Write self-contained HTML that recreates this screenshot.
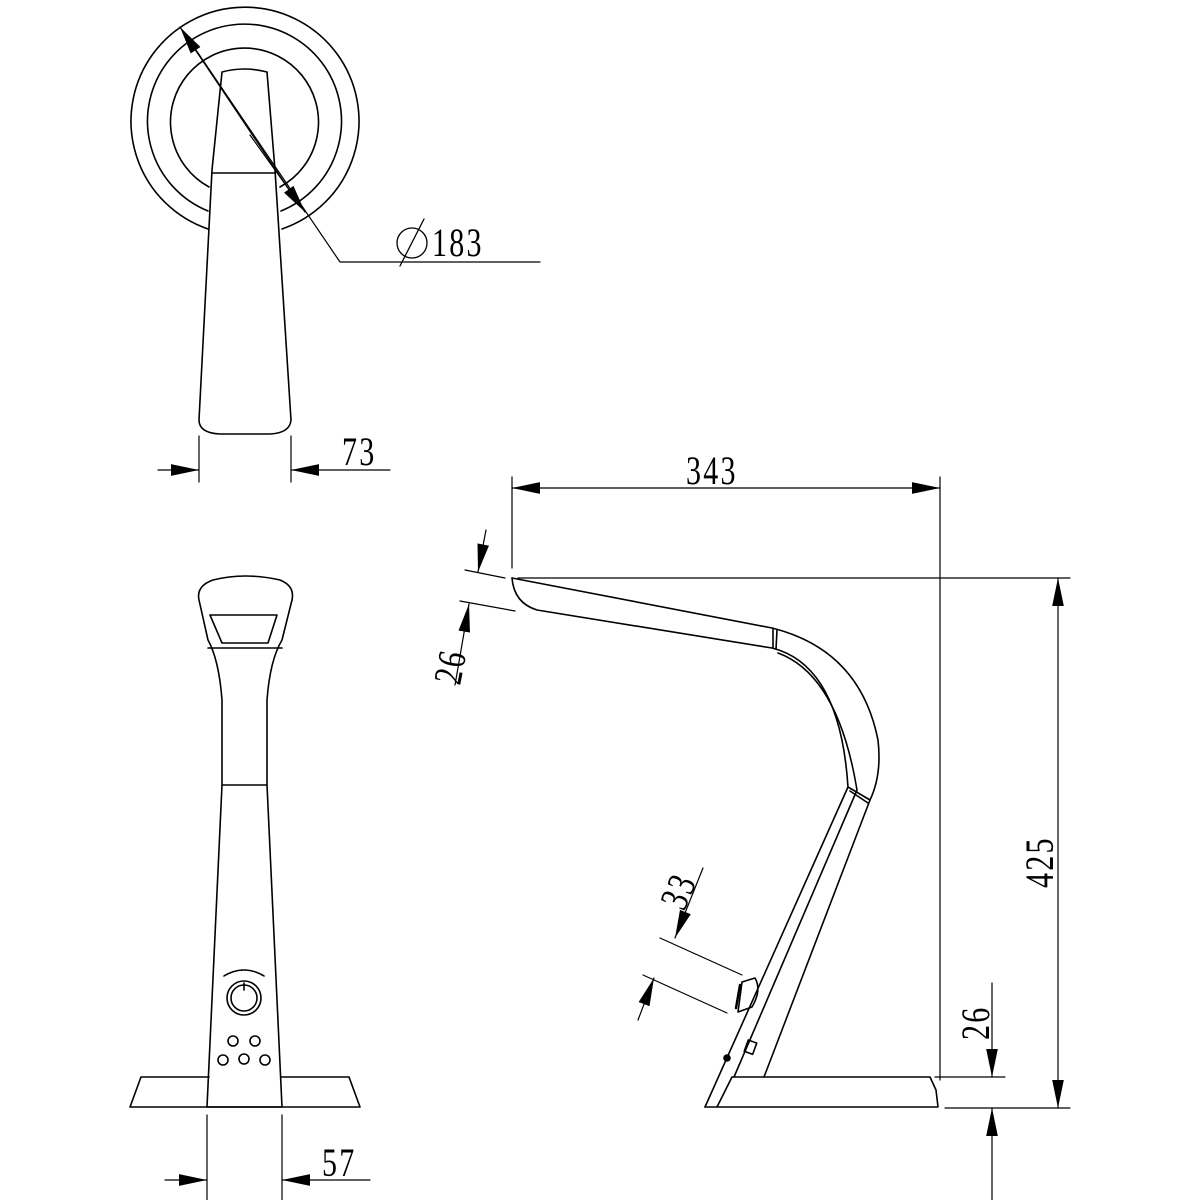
<!DOCTYPE html>
<html><head><style>html,body{margin:0;padding:0;background:#fff}svg{display:block}</style></head>
<body>
<svg width="1200" height="1200" viewBox="0 0 1200 1200" xmlns="http://www.w3.org/2000/svg">
<defs>
<marker id="b" viewBox="0 0 24 10" refX="24" refY="5" markerWidth="28" markerHeight="12" orient="auto-start-reverse" markerUnits="userSpaceOnUse"><path d="M0,0 L24,5 L0,10z" fill="#000"/></marker>
</defs>
<g fill="none" stroke="#000" stroke-width="1.6" stroke-linecap="round" stroke-linejoin="round">
<path d="M208,229 A114,114 0 1 1 282,229"/>
<path d="M208,211 A97,97 0 1 1 281,211"/>
<path d="M209,187 A74,74 0 1 1 280,187"/>
<path d="M222,72 Q244,66 267,72 L275,170 L291,420 Q290,433 270,434 L220,434 Q199,433 199,420 L212,170 Z"/>
<path d="M212,173 L275,173"/>
<line x1="199" y1="436" x2="199" y2="482" stroke-width="1.2"/>
<line x1="291" y1="436" x2="291" y2="482" stroke-width="1.2"/>
<line x1="158" y1="470" x2="199" y2="470" stroke-width="1.2" marker-end="url(#b)"/>
<line x1="390" y1="470" x2="291" y2="470" stroke-width="1.2" marker-end="url(#b)"/>
<line x1="300" y1="206" x2="180" y2="27" stroke-width="1.2" marker-end="url(#b)"/>
<path d="M196,50 L340,262 L540,262" stroke-width="1.2"/>
<line x1="250" y1="135" x2="305" y2="212" stroke-width="1.2" marker-end="url(#b)"/>
<circle cx="412" cy="243" r="15" stroke-width="1.3"/>
<line x1="400" y1="266" x2="424" y2="219" stroke-width="1.3"/>
<path d="M213,580 Q245,572 280,580 Q295,586 292,600 L282,640 Q270,660 267,700 L267,785 L282,1107 L207,1107 L222,785 L222,700 Q219,660 208,640 L199,600 Q196,586 213,580 Z"/>
<path d="M210,615 L277,615 L268,643 L222,643 Z"/>
<path d="M208,648 L282,648"/>
<path d="M222,785 L267,785"/>
<path d="M130,1107 L141,1077 L209,1077 M281,1077 L349,1077 L360,1107 L130,1107"/>
<circle cx="244" cy="998" r="17"/>
<circle cx="244" cy="998" r="13"/>
<line x1="244" y1="983" x2="244" y2="990"/>
<path d="M224,976 Q244,964 264,976" stroke-dasharray="2 1"/>
<circle cx="233" cy="1041" r="5"/><circle cx="255" cy="1041" r="5"/>
<circle cx="223" cy="1060" r="5"/><circle cx="244" cy="1059" r="5"/><circle cx="265" cy="1060" r="5"/>
<line x1="207" y1="1115" x2="207" y2="1200" stroke-width="1.2"/>
<line x1="282" y1="1115" x2="282" y2="1200" stroke-width="1.2"/>
<line x1="165" y1="1180" x2="207" y2="1180" stroke-width="1.2" marker-end="url(#b)"/>
<line x1="370" y1="1180" x2="282" y2="1180" stroke-width="1.2" marker-end="url(#b)"/>
<line x1="512" y1="477" x2="512" y2="568" stroke-width="1.2"/>
<line x1="940" y1="477" x2="940" y2="1080" stroke-width="1.2"/>
<line x1="512" y1="488" x2="940" y2="488" stroke-width="1.2" marker-start="url(#b)" marker-end="url(#b)"/>
<line x1="518" y1="578" x2="1070" y2="578" stroke-width="1.2"/>
<line x1="945" y1="1108" x2="1070" y2="1108" stroke-width="1.2"/>
<line x1="935" y1="1077" x2="1005" y2="1077" stroke-width="1.2"/>
<line x1="1058" y1="578" x2="1058" y2="1108" stroke-width="1.2" marker-start="url(#b)" marker-end="url(#b)"/>
<line x1="992" y1="983" x2="992" y2="1077" stroke-width="1.2" marker-end="url(#b)"/>
<line x1="992" y1="1200" x2="992" y2="1108" stroke-width="1.2" marker-end="url(#b)"/>
<path d="M512,578 L772,628 Q860,650 878,740 Q882,775 870,800 L764,1077"/>
<path d="M512,578 Q514,603 537,610 L772,648 Q840,665 848,787 L705,1107"/>
<path d="M773,628 L773,648 M777,630 L776,649"/>
<path d="M778,653 Q838,675 857,790 L734,1077"/>
<path d="M848,787 L870,800 M850,791 L868,803"/>
<path d="M705,1107 L938,1107 L936,1090 L930,1077 L732,1077 L717,1107"/>
<path d="M742,982 L755,978 Q762,990 752,1007 L738,1012 Z"/>
<path d="M740,985 L736,1008" stroke-width="2.5" stroke-dasharray="1.5 1"/>
<rect x="746" y="1041" width="9" height="12" transform="rotate(20 750 1047)"/>
<circle cx="727" cy="1058" r="3" fill="#000"/>
<line x1="465" y1="570" x2="505" y2="578" stroke-width="1.2"/>
<line x1="460" y1="601" x2="515" y2="611" stroke-width="1.2"/>
<line x1="486" y1="530" x2="478" y2="572" stroke-width="1.2" marker-end="url(#b)"/>
<line x1="455" y1="685" x2="469" y2="604" stroke-width="1.2" marker-end="url(#b)"/>
<line x1="660" y1="938" x2="742" y2="975" stroke-width="1.2"/>
<line x1="643" y1="975" x2="727" y2="1013" stroke-width="1.2"/>
<line x1="703" y1="868" x2="675" y2="938" stroke-width="1.2" marker-end="url(#b)"/>
<line x1="638" y1="1020" x2="654" y2="978" stroke-width="1.2" marker-end="url(#b)"/>
</g>
<g font-family="'Liberation Serif', serif" font-size="40" fill="#000">
<text transform="translate(432 256) scale(0.75 1)" letter-spacing="3">183</text>
<text transform="translate(342 465) scale(0.75 1)" letter-spacing="3">73</text>
<text transform="translate(322 1176) scale(0.75 1)" letter-spacing="3">57</text>
<text transform="translate(686 484) scale(0.75 1)" letter-spacing="3">343</text>
<text transform="translate(460 686) rotate(-79) scale(0.75 1)" letter-spacing="3">26</text>
<text transform="translate(684 912) rotate(-67) scale(0.75 1)" letter-spacing="3">33</text>
<text transform="translate(1053 888) rotate(-90) scale(0.75 1)" letter-spacing="3">425</text>
<text transform="translate(989 1040) rotate(-90) scale(0.75 1)" letter-spacing="3">26</text>
</g>
</svg>
</body></html>
